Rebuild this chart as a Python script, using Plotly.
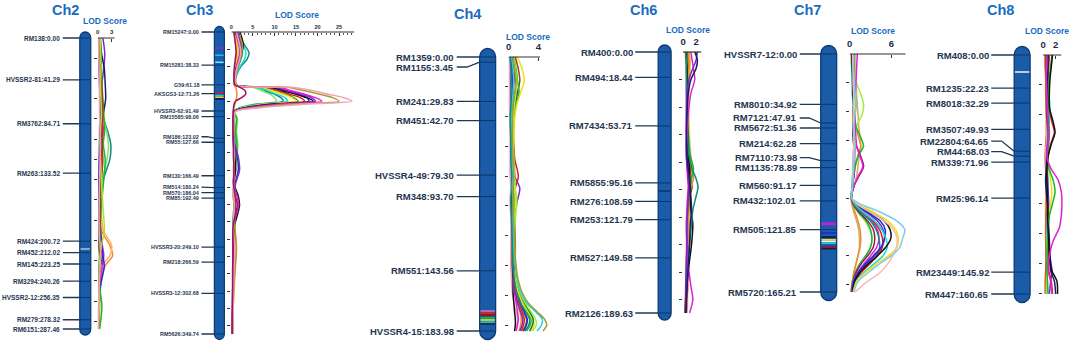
import plotly.graph_objects as go

W, H = 1072, 343

# ---------------- marker data (name, cM) ----------------
ch2_names = ["RM138", "HVSSR2-81", "RM3762", "RM263", "RM424", "RM452", "RM145", "RM3294", "HVSSR2-12", "RM279", "RM6151"]
ch2_cm = [0.00, 41.29, 84.71, 133.52, 200.72, 212.02, 223.25, 240.26, 256.35, 278.32, 287.46]

ch3_names = ["RM15247", "RM15281", "G59", "AKSGS3-12", "HVSSR3-62", "RM15585", "RM186", "RM55", "RM130", "RM514",
             "RM570", "RM85", "HVSSR3-20", "RM218", "HVSSR3-12", "RM5626"]
ch3_cm = [0.00, 38.33, 61.18, 71.26, 91.49, 98.06, 123.02, 127.66, 166.49, 180.24, 186.04, 192.49, 249.10, 266.59, 302.68, 349.74]

ch4_names = ["RM1359", "RM1155", "RM241", "RM451", "HVSSR4-49", "RM348", "RM551", "HVSSR4-15"]
ch4_cm = [0.00, 3.45, 29.83, 42.70, 79.30, 93.70, 143.56, 183.98]

ch6_names = ["RM400", "RM494", "RM7434", "RM5855", "RM276", "RM253", "RM527", "RM2126"]
ch6_cm = [0.00, 18.44, 53.71, 95.16, 108.59, 121.79, 149.58, 189.63]

ch7_names = ["HVSSR7-12", "RM8010", "RM7121", "RM5672", "RM214", "RM7110", "RM1135", "RM560", "RM432", "RM505", "RM5720"]
ch7_cm = [0.00, 34.92, 47.91, 51.36, 62.28, 73.98, 78.89, 91.17, 102.01, 121.85, 165.21]

ch8_names = ["RM408", "RM1235", "RM8018", "RM3507", "RM22804", "RM44", "RM339", "RM25", "RM23449", "RM447"]
ch8_cm = [0.00, 22.23, 32.29, 49.93, 64.65, 68.03, 71.96, 96.14, 145.92, 160.65]

# ---------------- coloured bands on the chromosomes (cM, colour) ----------------
ch2_bands = [(208.4, "#b8c0cc")]
ch3_bands = [(18.5, "#8a2ad0"), (27.0, "#22c4d4"), (35.0, "#7fe8ff"), (70.6, "#d42020"), (73.5, "#20c4e4"), (75.5, "#f0d830"), (77.5, "#101050")]
ch4_bands = [(170.6, "#e070c0"), (172.0, "#e02020"), (173.3, "#a01010"), (175.3, "#20c020"), (176.6, "#f0f020"), (178.0, "#20c0c0"), (179.3, "#202040")]
ch6_bands = [(101.0, "#0b3566")]
ch7_bands = [(117.3, "#c020e0"), (118.3, "#c020e0"), (124.3, "#2020e0"), (127.0, "#101040"), (129.0, "#f0e020"), (130.2, "#f4f4f4"), (131.4, "#20d0e0"), (134.0, "#a01020"), (135.2, "#202020")]
ch8_bands = [(11.4, "#eef2fa")]

# ---------------- LOD profiles ----------------
COLORS = {
    "pink": "#f2a0b4", "olive": "#a89a30", "magenta": "#e020d8", "purple": "#7a28c0", "black": "#111111",
    "blue": "#2030d0", "red": "#e02020", "yellow": "#f2e010", "green": "#18b828", "cyan": "#18d8e0",
    "teal": "#108a7a", "lightgreen": "#80e070", "darkmagenta": "#9a1460", "orange": "#f08a30",
    "navy": "#1c1a70", "brown": "#8b4a1a", "yellowgreen": "#b4e030", "tan": "#d8a868", "lime": "#9cf040",
    "lightblue": "#80c8ec", "lightpink": "#f8b8b8", "darkgreen": "#1a7a3a", "orange2": "#ffb060",
    "lightorange": "#f8c080",
}

ch2_lodpos = [0, 15, 30, 45, 60, 75, 90, 105, 120, 140, 165, 190, 205, 215, 225, 245, 265, 287.5]
ch2_lod = {
    "purple":      [1.1, 1.5, 1.3, 0.9, 0.7, 0.5, 0.4, 0.4, 0.3, 0.3, 0.4, 0.5, 0.8, 1.2, 0.9, 0.4, 0.3, 0.2],
    "navy":        [0.5, 0.8, 1.4, 1.6, 1.7, 1.2, 0.8, 0.6, 0.5, 0.4, 0.3, 0.3, 0.5, 0.9, 0.6, 0.3, 0.2, 0.2],
    "teal":        [0.3, 0.3, 0.4, 0.5, 0.6, 0.9, 2.0, 2.8, 2.6, 1.2, 0.6, 0.4, 0.3, 0.4, 0.3, 0.3, 0.2, 0.2],
    "lightgreen":  [0.4, 0.5, 0.6, 0.7, 0.8, 1.0, 1.8, 2.3, 2.0, 1.0, 0.7, 0.6, 0.4, 0.5, 0.5, 0.3, 0.4, 0.3],
    "orange":      [0.1, 0.2, 0.3, 0.4, 0.5, 0.6, 0.5, 0.4, 0.4, 0.5, 0.6, 0.8, 2.6, 3.2, 1.6, 0.6, 0.4, 0.3],
    "orange2":     [0.2, 0.3, 0.4, 0.5, 0.4, 0.5, 0.6, 0.5, 0.5, 0.6, 0.7, 1.2, 3.0, 2.6, 0.9, 0.5, 0.3, 0.2],
    "magenta":     [0.3, 0.4, 0.4, 0.5, 0.6, 0.8, 1.2, 1.0, 0.7, 0.5, 0.4, 0.5, 1.0, 1.3, 1.0, 0.5, 0.3, 0.2],
    "blue":        [0.2, 0.3, 0.3, 0.4, 0.5, 0.6, 0.5, 0.4, 0.4, 0.3, 0.4, 0.6, 0.9, 1.1, 1.4, 0.6, 0.3, 0.2],
    "green":       [0.6, 0.7, 0.8, 0.9, 1.1, 1.3, 1.5, 1.2, 1.6, 1.3, 0.8, 0.5, 0.3, 0.6, 0.5, 0.4, 0.9, 0.4],
    "red":         [0.4, 0.5, 0.6, 0.8, 1.0, 1.1, 1.0, 0.9, 0.8, 0.6, 0.5, 0.4, 0.4, 0.6, 0.5, 0.3, 0.3, 0.2],
    "brown":       [0.3, 0.4, 0.5, 0.7, 0.9, 1.0, 0.8, 0.9, 1.1, 0.8, 0.5, 0.4, 0.3, 0.4, 0.4, 0.3, 0.2, 0.2],
    "yellowgreen": [0.5, 0.6, 0.7, 0.6, 0.7, 0.8, 0.6, 0.5, 0.6, 0.8, 1.1, 1.4, 0.8, 0.5, 0.4, 0.3, 0.3, 0.2],
    "pink":        [0.2, 0.2, 0.3, 0.3, 0.4, 0.4, 0.5, 0.6, 0.5, 0.4, 0.3, 0.3, 0.5, 0.7, 0.5, 0.3, 0.2, 0.1],
}

ch3_lodpos = [0, 8, 16, 24, 32, 40, 50, 61, 64, 68, 72, 76, 80, 84, 88, 92, 100, 115, 130, 145, 160, 175, 190, 200, 210,
              225, 250, 275, 300, 325, 349.7]
ch3_lod = {
    "orange":      [0.6, 0.8, 1.0, 1.2, 1.1, 0.9, 0.7, 0.6, 1.0, 1.2, 1.3, 1.2, 1.0, 0.8, 0.6, 0.5, 0.5, 0.4, 0.5, 0.5, 0.6, 0.5, 0.5, 0.6, 0.7, 0.8, 1.2, 0.9, 0.6, 0.4, 0.3],
    "lightgreen":  [0.9, 1.2, 1.5, 1.6, 1.4, 1.0, 0.8, 0.6, 5.0, 7.0, 9.0, 10.0, 10.5, 5.0, 1.8, 0.5, 1.4, 1.2, 1.5, 1.3, 0.9, 0.7, 0.6, 0.7, 0.6, 0.5, 0.6, 0.5, 0.4, 0.4, 0.3],
    "teal":        [1.5, 2.2, 3.2, 4.1, 3.6, 2.2, 1.2, 0.8, 6.0, 8.0, 10.0, 11.5, 12.0, 5.5, 2.0, 0.6, 0.7, 0.8, 1.0, 0.9, 0.7, 0.6, 0.6, 0.7, 0.6, 0.5, 0.6, 0.5, 0.4, 0.3, 0.3],
    "cyan":        [1.4, 2.0, 2.8, 3.4, 3.0, 2.0, 1.1, 0.7, 6.0, 8.5, 10.5, 12.5, 13.0, 6.0, 2.0, 0.6, 0.6, 0.7, 0.9, 0.8, 0.6, 0.5, 0.5, 0.6, 0.5, 0.4, 0.5, 0.4, 0.4, 0.3, 0.3],
    "green":       [1.6, 2.0, 2.4, 2.6, 2.2, 1.6, 1.1, 0.9, 7.0, 10.0, 12.5, 14.5, 15.5, 7.5, 2.5, 0.7, 1.2, 1.0, 1.3, 1.2, 0.8, 0.6, 0.5, 0.6, 0.5, 0.4, 0.6, 0.5, 0.4, 0.3, 0.3],
    "yellow":      [0.8, 1.0, 1.3, 1.5, 1.4, 1.1, 0.8, 0.8, 7.0, 9.5, 12.0, 14.0, 15.0, 7.0, 2.5, 0.6, 0.5, 0.6, 0.7, 0.6, 0.5, 0.6, 0.5, 0.6, 0.6, 0.5, 0.7, 0.6, 0.5, 0.4, 0.3],
    "red":         [1.1, 1.5, 1.9, 2.1, 1.8, 1.3, 0.9, 0.8, 8.0, 11.0, 13.5, 16.0, 17.0, 8.0, 3.0, 0.7, 0.5, 0.5, 0.6, 0.7, 0.8, 0.6, 0.8, 1.0, 0.8, 0.5, 0.5, 0.4, 0.3, 0.3, 0.2],
    "blue":        [1.3, 1.7, 2.1, 2.3, 2.0, 1.4, 1.0, 1.0, 9.5, 12.5, 15.5, 17.5, 18.0, 9.0, 3.0, 0.7, 0.5, 0.5, 0.7, 1.4, 1.6, 0.9, 0.6, 0.8, 0.7, 0.4, 0.4, 0.3, 0.3, 0.2, 0.2],
    "black":       [2.0, 2.5, 2.8, 2.4, 1.8, 1.2, 0.8, 1.0, 9.0, 12.0, 15.0, 17.5, 19.0, 9.0, 3.0, 0.7, 0.5, 0.4, 0.5, 0.8, 1.0, 0.6, 1.6, 1.9, 1.5, 0.7, 0.5, 0.4, 0.3, 0.3, 0.2],
    "purple":      [1.5, 1.9, 2.3, 2.1, 1.7, 1.3, 1.0, 1.2, 10.0, 13.0, 16.0, 18.5, 19.5, 10.0, 3.5, 0.8, 0.6, 0.5, 0.8, 1.6, 1.9, 1.0, 0.6, 0.7, 0.6, 0.4, 0.5, 0.4, 0.3, 0.3, 0.2],
    "magenta":     [1.0, 1.4, 1.8, 2.0, 1.6, 1.2, 0.9, 0.9, 11.0, 14.0, 17.0, 19.5, 21.0, 11.0, 4.0, 0.8, 0.4, 0.4, 0.5, 0.6, 0.7, 0.5, 1.3, 1.7, 1.2, 0.5, 0.4, 0.3, 0.3, 0.2, 0.2],
    "olive":       [1.8, 2.2, 2.6, 2.4, 2.0, 1.5, 1.1, 1.1, 13.0, 17.0, 20.5, 23.5, 25.0, 13.0, 5.0, 0.9, 0.7, 0.6, 0.5, 0.6, 0.5, 0.6, 0.5, 0.6, 0.7, 0.8, 1.1, 0.8, 0.5, 0.4, 0.3],
    "pink":        [1.2, 1.6, 2.0, 2.2, 1.9, 1.4, 1.0, 1.0, 14.0, 19.0, 22.5, 26.0, 28.0, 16.0, 6.0, 1.0, 0.6, 0.5, 0.6, 0.7, 0.6, 0.5, 0.6, 0.7, 0.6, 0.4, 0.8, 0.6, 0.5, 0.4, 0.3],
    "darkmagenta": [0.6, 0.8, 1.0, 1.1, 0.9, 0.7, 0.6, 0.8, 2.0, 3.2, 3.3, 2.4, 1.0, 0.6, 0.5, 0.4, 0.4, 0.4, 0.5, 0.5, 0.6, 0.5, 0.9, 1.4, 1.0, 0.4, 0.4, 0.3, 0.3, 0.2, 0.2],
}

ch4_lodpos = [0, 8, 16, 24, 32, 42, 55, 68, 80, 88, 96, 110, 125, 140, 150, 158, 165, 171, 176, 180, 184]
ch4_lod = {
    "pink":        [0.1, 0.1, 0.1, 0.1, 0.1, 0.2, 0.2, 0.2, 0.2, 0.3, 0.2, 0.3, 0.3, 0.3, 0.4, 0.5, 0.7, 1.0, 1.2, 1.1, 1.0],
    "black":       [0.5, 0.6, 0.6, 0.5, 0.4, 0.4, 0.4, 0.5, 0.5, 0.5, 0.4, 0.5, 0.5, 0.5, 0.6, 0.6, 0.7, 0.8, 0.9, 0.9, 0.8],
    "orange":      [0.8, 0.9, 1.0, 0.9, 0.8, 0.7, 0.7, 0.8, 0.8, 0.7, 0.7, 0.8, 0.8, 0.8, 0.9, 1.0, 1.2, 1.5, 1.7, 1.6, 1.4],
    "magenta":     [0.3, 0.4, 0.4, 0.5, 0.5, 0.4, 0.4, 0.5, 0.5, 0.6, 0.5, 0.5, 0.6, 0.6, 0.7, 0.8, 1.0, 1.2, 1.3, 1.2, 1.0],
    "purple":      [0.3, 0.4, 0.5, 0.5, 0.4, 0.4, 0.5, 0.6, 0.8, 1.5, 1.2, 0.7, 0.6, 0.6, 0.7, 0.9, 1.2, 1.6, 1.9, 1.8, 1.5],
    "red":         [0.5, 0.6, 0.7, 0.6, 0.5, 0.5, 0.6, 0.8, 1.3, 0.9, 0.6, 0.7, 0.8, 0.7, 0.8, 1.1, 1.4, 1.8, 2.1, 2.0, 1.7],
    "brown":       [0.9, 1.3, 1.5, 1.2, 0.9, 0.7, 0.6, 0.7, 0.7, 0.6, 0.7, 0.8, 0.9, 0.9, 1.0, 1.2, 1.5, 2.0, 2.4, 2.3, 1.9],
    "blue":        [0.4, 0.7, 0.9, 1.1, 0.8, 0.5, 0.4, 0.5, 0.6, 0.7, 0.6, 0.9, 0.7, 0.7, 0.9, 1.2, 1.6, 2.1, 2.5, 2.4, 2.0],
    "teal":        [0.2, 0.3, 0.3, 0.3, 0.3, 0.2, 0.3, 0.3, 0.4, 0.4, 0.3, 0.4, 0.5, 0.6, 0.8, 1.1, 1.6, 2.3, 2.8, 2.7, 2.2],
    "green":       [0.6, 1.0, 1.2, 1.4, 1.0, 0.6, 0.5, 0.6, 0.7, 0.9, 0.8, 0.7, 0.7, 0.8, 1.0, 1.4, 1.9, 2.5, 3.0, 2.9, 2.4],
    "yellow":      [1.2, 1.8, 2.1, 1.6, 1.1, 0.8, 0.7, 0.6, 0.7, 0.8, 0.9, 0.8, 0.7, 0.8, 1.0, 1.3, 1.9, 2.6, 3.2, 3.4, 3.0],
    "darkgreen":   [0.5, 0.7, 0.9, 1.0, 0.7, 0.5, 0.5, 0.6, 0.8, 0.6, 0.5, 0.6, 0.7, 0.8, 1.1, 1.5, 2.1, 2.8, 3.3, 3.2, 2.8],
    "lime":        [0.7, 0.9, 1.1, 1.0, 0.8, 0.6, 0.6, 0.7, 0.8, 0.9, 1.1, 0.9, 0.8, 0.9, 1.1, 1.5, 2.2, 3.0, 3.6, 3.7, 3.2],
    "cyan":        [0.4, 0.6, 0.7, 0.6, 0.5, 0.4, 0.5, 0.5, 0.6, 0.5, 0.6, 0.6, 0.7, 0.9, 1.2, 1.6, 2.4, 3.6, 4.5, 4.4, 3.8],
    "olive":       [0.6, 0.8, 1.0, 0.8, 0.6, 0.5, 0.5, 0.6, 0.7, 0.6, 0.6, 0.7, 0.8, 1.0, 1.3, 1.8, 2.6, 3.8, 4.8, 5.1, 4.6],
}

ch6_lodpos = [0, 6, 12, 20, 30, 45, 60, 75, 85, 92, 98, 105, 115, 125, 140, 155, 170, 180, 189.6]
ch6_lod = {
    "lightorange": [1.0, 1.1, 1.1, 1.0, 0.9, 0.9, 1.0, 1.2, 1.4, 1.2, 1.1, 1.0, 1.0, 0.9, 0.8, 0.8, 0.7, 0.7, 0.6],
    "yellowgreen": [0.9, 1.0, 1.0, 0.9, 0.8, 0.7, 0.7, 0.8, 0.9, 0.9, 0.8, 0.8, 0.9, 0.8, 0.8, 0.7, 0.6, 0.5, 0.4],
    "pink":        [0.3, 0.4, 0.4, 0.5, 0.5, 0.5, 0.6, 0.7, 0.9, 1.1, 0.9, 0.7, 0.6, 0.5, 0.5, 0.4, 0.4, 0.3, 0.3],
    "red":         [0.7, 0.8, 0.8, 0.7, 0.6, 0.6, 0.6, 0.8, 1.0, 1.2, 1.0, 0.8, 0.7, 0.6, 0.6, 0.6, 0.7, 0.6, 0.5],
    "brown":       [0.6, 0.7, 0.7, 0.7, 0.6, 0.6, 0.7, 0.9, 1.2, 1.1, 1.4, 1.0, 0.8, 0.7, 0.7, 0.6, 0.6, 0.5, 0.5],
    "orange":      [0.8, 0.9, 0.9, 0.8, 0.7, 0.7, 0.8, 1.0, 1.3, 1.6, 1.2, 1.0, 0.9, 0.8, 0.8, 0.7, 0.6, 0.6, 0.5],
    "green":       [0.5, 0.6, 0.6, 0.6, 0.6, 0.7, 0.8, 1.1, 1.6, 1.3, 0.9, 0.8, 0.7, 0.6, 0.6, 0.5, 0.5, 0.4, 0.4],
    "black":       [0.5, 0.5, 0.6, 0.6, 0.6, 0.6, 0.7, 0.8, 1.0, 0.9, 1.0, 1.1, 1.2, 1.5, 1.3, 0.9, 0.6, 0.5, 0.4],
    "teal":        [0.4, 0.5, 0.5, 0.5, 0.5, 0.6, 0.7, 0.9, 1.4, 2.0, 2.3, 2.0, 1.5, 1.3, 1.0, 0.7, 0.5, 0.4, 0.3],
    "magenta":     [1.2, 1.4, 1.6, 1.8, 1.2, 0.8, 0.6, 0.5, 0.6, 0.7, 0.8, 0.7, 0.6, 0.5, 0.6, 0.8, 1.2, 1.5, 1.0],
    "purple":      [2.2, 2.0, 1.5, 0.9, 0.6, 0.5, 0.5, 0.5, 0.7, 0.8, 0.9, 0.8, 0.7, 0.6, 0.6, 0.5, 0.4, 0.4, 0.3],
    "navy":        [1.8, 2.2, 2.0, 1.2, 0.8, 0.6, 0.5, 0.6, 0.8, 1.0, 1.1, 1.2, 1.3, 1.1, 1.0, 0.8, 0.6, 0.5, 0.4],
}

ch7_lodpos = [0, 10, 20, 28, 35, 42, 50, 58, 64, 70, 78, 85, 92, 100, 104, 110, 116, 122, 128, 134, 140, 146, 152, 158, 165.2]
ch7_lod = {
    "tan":         [0.8, 0.8, 0.9, 1.0, 1.1, 1.2, 1.3, 1.5, 1.6, 1.4, 1.2, 1.0, 0.6, 0.2, 0.3, 0.6, 1.0, 1.3, 1.4, 1.4, 1.2, 0.9, 0.6, 0.4, 0.3],
    "orange":      [0.2, 0.3, 0.4, 0.5, 0.6, 0.6, 0.8, 1.3, 1.6, 1.2, 0.8, 0.6, 0.4, 0.2, 0.4, 0.8, 1.2, 1.5, 1.6, 1.5, 1.2, 0.9, 0.6, 0.4, 0.2],
    "lime":        [0.7, 0.8, 1.0, 1.6, 2.0, 1.8, 1.0, 0.8, 0.7, 0.6, 0.6, 0.5, 0.4, 0.3, 0.5, 1.2, 2.2, 2.9, 3.2, 3.0, 2.4, 1.5, 0.8, 0.4, 0.3],
    "green":       [0.4, 0.5, 0.6, 0.8, 0.9, 0.8, 0.9, 1.6, 2.0, 1.3, 0.8, 0.6, 0.4, 0.2, 0.5, 1.3, 2.4, 3.0, 3.2, 3.0, 2.3, 1.4, 0.8, 0.4, 0.2],
    "darkmagenta": [0.6, 0.6, 0.6, 0.7, 0.7, 0.7, 0.7, 0.8, 1.0, 1.5, 2.0, 1.3, 0.6, 0.3, 0.5, 1.4, 2.6, 3.4, 3.6, 3.4, 2.6, 1.6, 0.9, 0.5, 0.3],
    "magenta":     [1.1, 1.0, 0.9, 0.8, 0.7, 0.7, 0.8, 0.9, 1.0, 1.4, 1.9, 1.2, 0.6, 0.3, 0.6, 1.8, 3.2, 4.0, 4.2, 3.9, 3.0, 2.0, 1.1, 0.5, 0.3],
    "teal":        [0.3, 0.3, 0.4, 0.4, 0.5, 0.5, 0.5, 0.6, 0.6, 0.6, 0.6, 0.5, 0.4, 0.3, 0.6, 1.6, 3.0, 3.8, 4.2, 4.3, 3.9, 2.8, 1.6, 0.8, 0.5],
    "red":         [0.5, 0.6, 0.6, 0.7, 0.7, 0.6, 0.6, 0.7, 0.8, 0.7, 0.6, 0.5, 0.4, 0.3, 0.7, 2.0, 3.4, 4.3, 4.7, 4.7, 4.0, 2.8, 1.6, 0.7, 0.4],
    "purple":      [0.5, 0.5, 0.6, 0.6, 0.6, 0.6, 0.5, 0.6, 0.6, 0.7, 0.7, 0.6, 0.4, 0.3, 0.8, 2.4, 4.0, 4.8, 5.0, 4.6, 3.6, 2.4, 1.4, 0.7, 0.4],
    "blue":        [0.4, 0.5, 0.5, 0.6, 0.6, 0.5, 0.5, 0.6, 0.6, 0.6, 0.5, 0.5, 0.4, 0.3, 0.9, 2.6, 4.4, 5.1, 5.0, 4.5, 3.4, 2.2, 1.2, 0.6, 0.4],
    "cyan":        [0.3, 0.4, 0.4, 0.5, 0.5, 0.5, 0.5, 0.6, 0.6, 0.5, 0.5, 0.4, 0.3, 0.3, 0.7, 2.0, 3.6, 4.6, 5.2, 5.4, 4.8, 3.4, 2.0, 0.9, 0.5],
    "black":       [0.3, 0.4, 0.5, 0.5, 0.6, 0.5, 0.5, 0.5, 0.6, 0.6, 0.6, 0.5, 0.4, 0.3, 1.0, 3.0, 5.0, 5.8, 5.9, 5.2, 4.0, 2.6, 1.4, 0.7, 0.4],
    "yellow":      [0.5, 0.5, 0.6, 0.6, 0.7, 0.6, 0.6, 0.7, 0.7, 0.6, 0.6, 0.5, 0.4, 0.3, 1.2, 3.5, 5.5, 6.6, 7.0, 6.8, 5.6, 3.8, 2.2, 1.0, 0.5],
    "lightpink":   [0.4, 0.5, 0.5, 0.6, 0.6, 0.5, 0.5, 0.6, 0.6, 0.5, 0.5, 0.4, 0.4, 0.3, 1.0, 3.0, 5.0, 6.3, 6.8, 6.7, 6.2, 5.4, 4.3, 2.5, 0.8],
    "lightblue":   [0.6, 0.6, 0.7, 0.8, 0.9, 0.8, 0.6, 0.7, 0.8, 0.7, 0.6, 0.5, 0.4, 0.3, 1.5, 4.5, 6.8, 7.9, 7.6, 7.2, 6.0, 4.2, 2.6, 1.2, 0.6],
}

ch8_lodpos = [0, 8, 16, 25, 35, 45, 52, 60, 68, 76, 84, 92, 100, 108, 116, 125, 135, 145, 152, 160.6]
ch8_lod = {
    "orange":  [0.3, 0.3, 0.4, 0.4, 0.5, 0.5, 0.5, 0.4, 0.3, 0.4, 0.5, 0.5, 0.4, 0.4, 0.4, 0.4, 0.5, 0.4, 0.3, 0.3],
    "tan":     [0.5, 0.5, 0.6, 0.6, 0.6, 0.7, 0.6, 0.5, 0.4, 0.5, 0.6, 0.6, 0.6, 0.5, 0.5, 0.5, 0.6, 0.6, 0.5, 0.5],
    "brown":   [0.4, 0.4, 0.5, 0.5, 0.5, 0.6, 0.6, 0.5, 0.4, 0.5, 0.5, 0.6, 0.6, 0.5, 0.5, 0.5, 0.5, 0.5, 0.5, 0.5],
    "pink":    [0.6, 0.6, 0.6, 0.7, 0.8, 0.7, 0.6, 0.5, 0.3, 0.4, 0.5, 0.6, 0.6, 0.6, 0.6, 0.6, 0.7, 0.7, 0.6, 0.5],
    "cyan":    [0.9, 0.8, 0.8, 0.9, 1.1, 1.0, 0.8, 0.7, 0.6, 0.7, 0.8, 0.8, 0.7, 0.7, 0.6, 0.7, 0.8, 0.7, 0.6, 0.6],
    "purple":  [0.7, 0.7, 0.6, 0.6, 0.6, 0.7, 0.8, 0.7, 0.6, 0.6, 0.7, 0.8, 0.9, 0.9, 0.8, 0.9, 1.1, 1.4, 1.2, 1.0],
    "yellow":  [0.8, 0.8, 0.7, 0.7, 0.7, 0.8, 0.9, 0.8, 0.7, 0.9, 1.2, 1.4, 1.2, 0.9, 0.8, 0.7, 0.6, 0.6, 0.6, 0.7],
    "red":     [1.0, 0.9, 0.8, 0.8, 0.9, 1.4, 1.8, 1.2, 0.8, 0.6, 0.6, 0.6, 0.7, 0.7, 0.7, 0.8, 0.8, 0.9, 1.3, 1.5],
    "navy":    [0.8, 0.8, 0.7, 0.7, 0.7, 0.8, 0.9, 0.8, 0.6, 0.5, 0.4, 0.5, 0.7, 0.8, 0.9, 1.0, 1.1, 1.2, 1.8, 2.0],
    "green":   [1.4, 1.2, 1.0, 0.9, 0.8, 0.9, 1.0, 0.9, 0.7, 0.9, 1.6, 1.9, 1.5, 1.0, 0.8, 0.7, 0.6, 0.6, 0.7, 0.8],
    "black":   [1.5, 1.3, 1.1, 1.0, 1.0, 1.6, 1.9, 1.3, 0.8, 0.6, 0.6, 0.7, 0.7, 0.7, 0.8, 0.9, 1.0, 1.4, 2.2, 2.3],
    "magenta": [0.6, 0.5, 0.5, 0.6, 0.7, 0.8, 0.9, 0.8, 0.6, 1.2, 2.4, 2.9, 3.0, 2.9, 2.6, 1.6, 1.0, 0.8, 1.2, 1.4],
}

# ---------------- layout (pixel geometry of each panel) ----------------
panels = [
    dict(title="Ch2", names=ch2_names, cm=ch2_cm, lodpos=ch2_lodpos, lod=ch2_lod, bands=ch2_bands,
         y0=38, y1=329, bar=(77, 88), lead=60, lab_font=6.5, gap=7, lod_x0=95, pxu=4.67, lod_max=4.0,
         line_end=3.6, dtick=3, minor=False, tick_font=6, standoff=3, title_xy=(63, 10), lod_xy=(102, 21)),
    dict(title="Ch3", names=ch3_names, cm=ch3_cm, lodpos=ch3_lodpos, lod=ch3_lod, bands=ch3_bands,
         y0=32, y1=334, bar=(212, 222), lead=199, lab_font=5.4, gap=5.5, lod_x0=229, pxu=4.32, lod_max=29.0,
         line_end=28.5, dtick=5, minor=True, tick_font=5.5, standoff=2, title_xy=(197, 10), lod_xy=(295, 15)),
    dict(title="Ch4", names=ch4_names, cm=ch4_cm, lodpos=ch4_lodpos, lod=ch4_lod, bands=ch4_bands,
         y0=57, y1=331, bar=(478, 494), lead=455, lab_font=9.5, gap=10, lod_x0=507, pxu=7.5, lod_max=5.5,
         line_end=4.2, dtick=4, minor=False, tick_font=9.5, standoff=5, title_xy=(466, 14), lod_xy=(526, 37)),
    dict(title="Ch6", names=ch6_names, cm=ch6_cm, lodpos=ch6_lodpos, lod=ch6_lod, bands=ch6_bands,
         y0=52, y1=313, bar=(657, 670), lead=634, lab_font=9.5, gap=10, lod_x0=682, pxu=6.5, lod_max=2.9,
         line_end=2.8, dtick=2, minor=False, tick_font=9.5, standoff=5, title_xy=(642, 10), lod_xy=(687, 30)),
    dict(title="Ch7", names=ch7_names, cm=ch7_cm, lodpos=ch7_lodpos, lod=ch7_lod, bands=ch7_bands,
         y0=54, y1=292, bar=(820, 836), lead=799, lab_font=9.5, gap=10, lod_x0=849, pxu=7.0, lod_max=8.3,
         line_end=8.0, dtick=6, minor=False, tick_font=9.5, standoff=5, title_xy=(807, 10), lod_xy=(872, 31)),
    dict(title="Ch8", names=ch8_names, cm=ch8_cm, lodpos=ch8_lodpos, lod=ch8_lod, bands=ch8_bands,
         y0=55, y1=294, bar=(1014, 1030), lead=991, lab_font=9.5, gap=10.5, lod_x0=1043, pxu=6.3, lod_max=3.2,
         line_end=2.9, dtick=2, minor=False, tick_font=9.5, standoff=5, title_xy=(1000, 10), lod_xy=(1047, 31)),
]

FONT = "Liberation Sans, Arial, sans-serif"
TITLE_COLOR = "#1a6cc0"
LABEL_COLOR = "#1f3650"
BAR_FILL = "#1b5ca8"
BAR_EDGE = "#0c3c78"


def axname(kind, n):
    return f"{kind}axis" if n == 1 else f"{kind}axis{n}"


def axref(kind, n):
    return kind if n == 1 else f"{kind}{n}"


def label_positions(pos, gap):
    lab = list(pos)
    for i in range(len(lab) - 2, 0, -1):
        lab[i] = min(lab[i], lab[i + 1] - gap)
    lab[0] = pos[0]
    for i in range(1, len(lab) - 1):
        lab[i] = max(lab[i], lab[i - 1] + gap)
    return lab


fig = go.Figure()
lay = {}
shapes = []
annotations = []

for i, p in enumerate(panels):
    nc, nl, ny = 2 * i + 1, 2 * i + 2, i + 1
    xc, xl, yy = axref("x", nc), axref("x", nl), axref("y", ny)
    L = max(p["cm"])
    s = (p["y1"] - p["y0"]) / L          # px per cM
    ytop = -p["y0"] / s
    ybot = (H - p["y0"]) / s
    bl, br = p["bar"]
    lod_x1 = p["lod_x0"] + p["lod_max"] * p["pxu"]
    xstart = max(0, p["lead"] - 95)

    lay[axname("x", nc)] = dict(domain=[xstart / W, (br + 2) / W], range=[xstart, br + 2],
                                visible=False, anchor=yy, fixedrange=True)
    xl_cfg = dict(domain=[p["lod_x0"] / W, lod_x1 / W], range=[0, p["lod_max"]], side="top",
                  anchor="free", position=1 - p["y0"] / H, showline=False, showgrid=False,
                  zeroline=False, ticks="inside", ticklen=3, tickwidth=1, tickcolor="#333333",
                  tickmode="linear", tick0=0, dtick=p["dtick"], ticklabelstandoff=p["standoff"],
                  tickfont=dict(family=FONT, size=p["tick_font"], color="#1d2d44", weight="bold"),
                  fixedrange=True)
    if p["minor"]:
        xl_cfg["minor"] = dict(dtick=1, ticks="inside", ticklen=2, tickcolor="#555555", showgrid=False)
    lay[axname("x", nl)] = xl_cfg
    lay[axname("y", ny)] = dict(domain=[0, 1], range=[ybot, ytop], anchor=xl, side="left",
                                showline=False, showgrid=False, zeroline=False, showticklabels=False,
                                ticks="outside", ticklen=3, tickwidth=1, tickcolor="#333333",
                                tickmode="array", tickvals=list(range(20, int(L) + 1, 20)),
                                fixedrange=True)

    # chromosome bar (rounded ends)
    rx = (br - bl) / 2.0
    ry = (rx + 0.5) / s
    xm = (bl + br) / 2.0
    yt, yb = -ry, L + ry
    k = 0.5523
    path = (f"M {bl},{yt + ry} C {bl},{yt + ry - k * ry} {xm - k * rx},{yt} {xm},{yt} "
            f"C {xm + k * rx},{yt} {br},{yt + ry - k * ry} {br},{yt + ry} "
            f"L {br},{yb - ry} C {br},{yb - ry + k * ry} {xm + k * rx},{yb} {xm},{yb} "
            f"C {xm - k * rx},{yb} {bl},{yb - ry + k * ry} {bl},{yb - ry} Z")
    shapes.append(dict(type="path", xref=xc, yref=yy, path=path, fillcolor=BAR_FILL,
                       line=dict(color=BAR_EDGE, width=1.3), layer="below"))

    # marker lines inside the bar
    ix, iy = [], []
    for c in p["cm"]:
        ix += [bl + 0.5, br - 0.5, None]
        iy += [c, c, None]
    fig.add_trace(go.Scatter(x=ix, y=iy, xaxis=xc, yaxis=yy, mode="lines",
                             line=dict(color="#0b3566", width=1), hoverinfo="skip"))

    # coloured bands
    for c, col in p["bands"]:
        fig.add_trace(go.Scatter(x=[bl + 0.8, br - 0.8], y=[c, c], xaxis=xc, yaxis=yy, mode="lines",
                                 line=dict(color=col, width=1.6), hoverinfo="skip"))

    # leader lines and labels
    labs = label_positions(p["cm"], p["gap"] / s)
    lx, ly = [], []
    bend = p["lead"] + 0.45 * (bl - p["lead"])
    for name, c, lab in zip(p["names"], p["cm"], labs):
        lx += [p["lead"], bend, bl, None]
        ly += [lab, lab, c, None]
        annotations.append(dict(text=f"{name}:{c:.2f}", xref=xc, yref=yy, x=p["lead"] - 0.5, y=lab,
                                xanchor="right", yanchor="middle", showarrow=False,
                                font=dict(family=FONT, size=p["lab_font"], color=LABEL_COLOR, weight="bold")))
    fig.add_trace(go.Scatter(x=lx, y=ly, xaxis=xc, yaxis=yy, mode="lines",
                             line=dict(color="#22384f", width=1.3), hoverinfo="skip"))

    # LOD curves
    for trait, vals in p["lod"].items():
        fig.add_trace(go.Scatter(x=vals, y=p["lodpos"], xaxis=xl, yaxis=yy, mode="lines",
                                 line=dict(color=COLORS[trait], width=1.5, shape="spline", smoothing=0.8),
                                 hoverinfo="skip"))

    # LOD axis line
    shapes.append(dict(type="line", xref=xl, yref=yy, x0=0, x1=p["line_end"], y0=0, y1=0,
                       line=dict(color="#333333", width=1.2)))

    # titles
    tx, ty = p["title_xy"]
    annotations.append(dict(text=p["title"], xref="paper", yref="paper", x=tx / W, y=1 - ty / H,
                            xanchor="center", yanchor="middle", showarrow=False,
                            font=dict(family=FONT, size=14.5, color=TITLE_COLOR, weight="bold")))
    lx0, ly0 = p["lod_xy"]
    annotations.append(dict(text="LOD Score", xref="paper", yref="paper", x=lx0 / W, y=1 - ly0 / H,
                            xanchor="center", yanchor="middle", showarrow=False,
                            font=dict(family=FONT, size=8.5, color=TITLE_COLOR, weight="bold")))

fig.update_layout(width=W, height=H, margin=dict(l=0, r=0, t=0, b=0), paper_bgcolor="white",
                  plot_bgcolor="rgba(0,0,0,0)", showlegend=False, shapes=shapes, annotations=annotations,
                  hovermode=False, **lay)

fig.write_html("out.html", config={"displayModeBar": False, "staticPlot": True},
               post_script="document.body.style.margin='0';document.body.style.overflow='hidden';")
